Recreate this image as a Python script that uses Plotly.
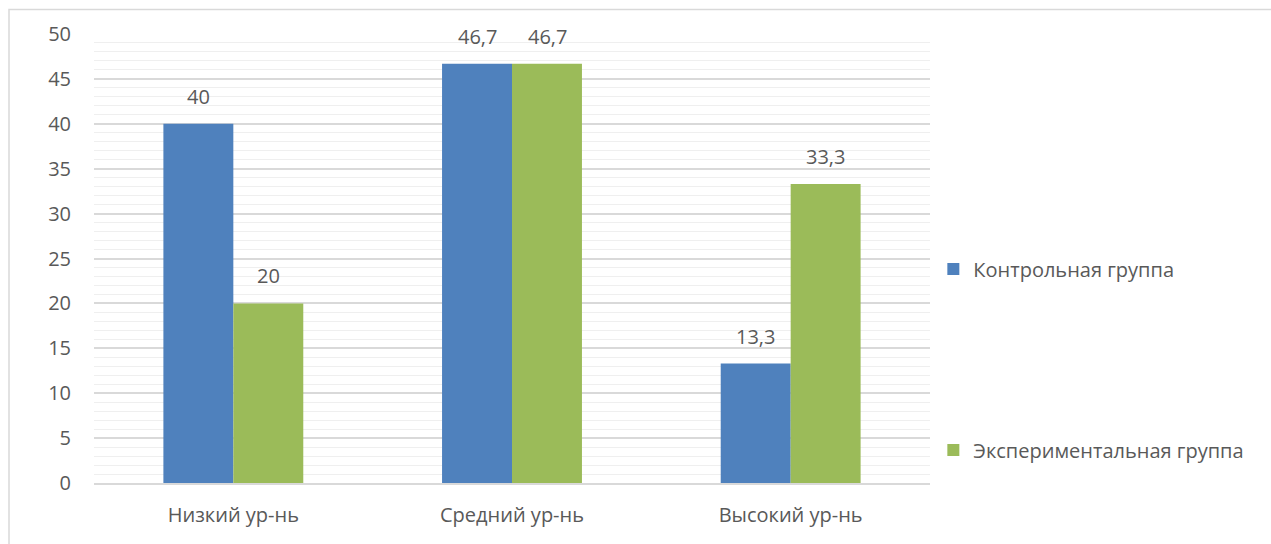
import plotly.graph_objects as go

categories = ["Низкий ур-нь", "Средний ур-нь", "Высокий ур-нь"]
series_names = ["Контрольная группа", "Экспериментальная группа"]
control = [40, 46.7, 13.3]
experimental = [20, 46.7, 33.3]
colors = ["#4F81BD", "#9BBB59"]
y_ticks = [0, 5, 10, 15, 20, 25, 30, 35, 40, 45, 50]

FONT = "Open Sans"
TXT = "#595959"
FS = 20

fig = go.Figure()
for i, (name, vals) in enumerate(zip(series_names, [control, experimental])):
    fig.add_trace(go.Bar(
        x=categories, y=vals, name=name,
        marker=dict(color=colors[i], line=dict(width=0)),
        legendgroup=f"g{i}",
    ))
    for c, v in zip(categories, vals):
        fig.add_annotation(
            x=c, y=v, text=f"{v:g}".replace(".", ","),
            showarrow=False, xref="x", yref="y",
            xshift=(-35 if i == 0 else 35), yshift=12, yanchor="bottom",
            font=dict(family=FONT, size=FS, color=TXT),
        )

fig.update_layout(
    width=1271, height=544,
    margin=dict(l=94, r=341, t=34, b=61),
    paper_bgcolor="white", plot_bgcolor="white",
    barmode="group", bargap=0.498, bargroupgap=0,
    font=dict(family=FONT, size=FS, color=TXT),
    showlegend=True,
    legend=dict(
        x=1.004, y=0.52, xanchor="left", yanchor="top",
        traceorder="grouped", tracegroupgap=152,
        font=dict(family=FONT, size=FS, color=TXT),
        itemwidth=30,
    ),
    shapes=[dict(type="rect", xref="paper", yref="paper",
                 x0=-94 / 836 + 9 / 836, x1=1.5, y0=-0.5, y1=(483 - 9.5) / 449,
                 line=dict(color="#D9D9D9", width=1.5), fillcolor="rgba(0,0,0,0)",
                 layer="below")],
)
fig.update_xaxes(
    showline=True, linecolor="#D9D9D9", linewidth=1.5,
    ticks="", tickfont=dict(family=FONT, size=FS, color=TXT), ticklabelstandoff=13,
)
fig.update_yaxes(
    range=[0, 50], tickvals=y_ticks, showline=False, zeroline=False,
    showgrid=True, gridcolor="#D9D9D9", gridwidth=1.5,
    minor=dict(dtick=1, showgrid=True, gridcolor="#EFEFEF", gridwidth=1),
    tickfont=dict(family=FONT, size=FS, color=TXT), ticklabelstandoff=22,
)

fig.write_html("out.html")
